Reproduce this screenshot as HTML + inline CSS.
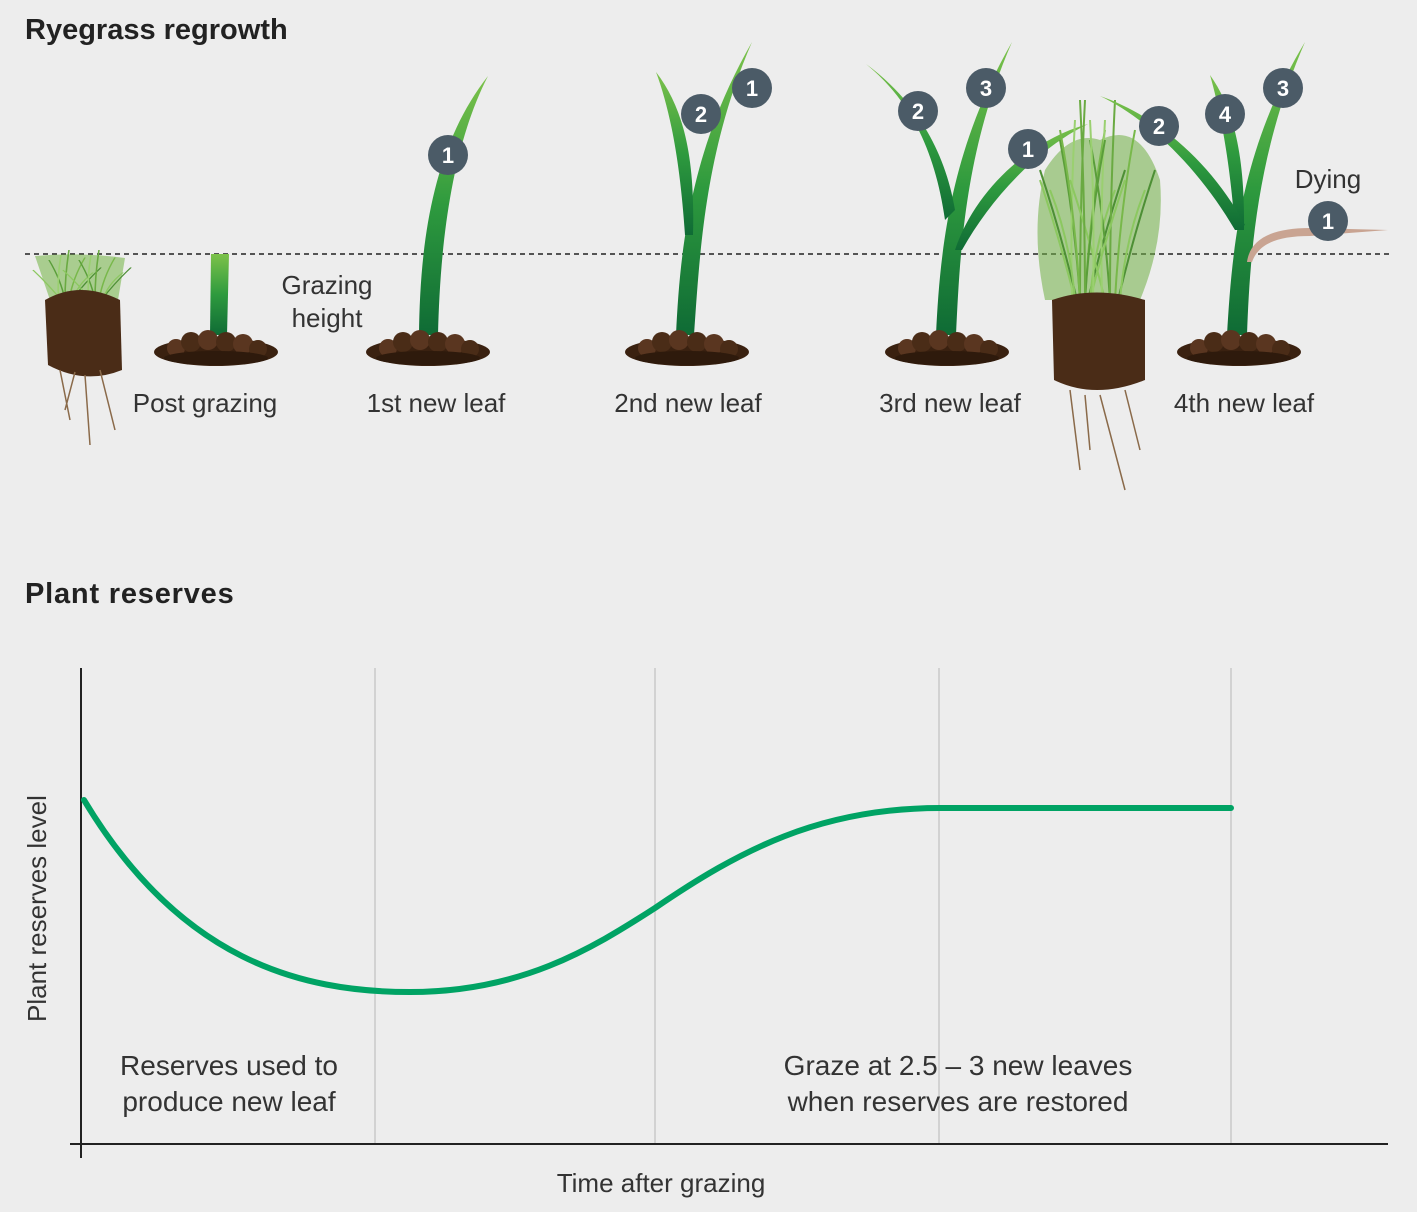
<!DOCTYPE html>
<html><head><meta charset="utf-8"><style>
html,body{margin:0;padding:0;background:#ededed;}
svg{display:block;font-family:"Liberation Sans",sans-serif;}
.t{fill:#333;font-size:26px;}
.h{fill:#222;font-size:29px;font-weight:bold;}
.n{fill:#fff;font-size:22px;font-weight:bold;text-anchor:middle;}
</style></head><body>
<svg width="1417" height="1212" viewBox="0 0 1417 1212" xmlns="http://www.w3.org/2000/svg">
<defs>
<linearGradient id="g" x1="0" y1="1" x2="0" y2="0">
<stop offset="0" stop-color="#0f6b35"/><stop offset="0.5" stop-color="#2e9a3e"/><stop offset="1" stop-color="#7cc24a"/>
</linearGradient>
<g id="soil">
<ellipse cx="0" cy="2" rx="62" ry="14" fill="#3a2110"/>
<circle cx="-40" cy="-2" r="9" fill="#5a3620"/>
<circle cx="-25" cy="-8" r="10" fill="#4a2c17"/>
<circle cx="-8" cy="-10" r="10" fill="#5a3620"/>
<circle cx="10" cy="-8" r="10" fill="#4a2c17"/>
<circle cx="27" cy="-6" r="10" fill="#5a3620"/>
<circle cx="42" cy="-1" r="9" fill="#4a2c17"/>
<ellipse cx="0" cy="8" rx="52" ry="7" fill="#2e1a0c"/>
</g>
<g id="grass" fill="none" stroke-width="2">
<path d="M0,0 Q-5,-80 -20,-160" stroke="#5a9e3a"/>
<path d="M5,0 Q10,-90 25,-170" stroke="#78b84a"/>
<path d="M-5,0 Q-20,-60 -40,-120" stroke="#8cc860"/>
<path d="M8,0 Q25,-70 45,-130" stroke="#4d8f35"/>
<path d="M0,0 Q0,-100 5,-200" stroke="#6aaa42"/>
<path d="M-8,0 Q-10,-90 -5,-180" stroke="#9ad070"/>
<path d="M10,0 Q15,-60 35,-110" stroke="#8cc860"/>
</g>
</defs>
<rect width="1417" height="1212" fill="#ededed"/>
<text x="25" y="39" class="h">Ryegrass regrowth</text>
<text x="25" y="603" class="h" letter-spacing="0.8">Plant reserves</text>

<line x1="25" y1="254" x2="1390" y2="254" stroke="#222" stroke-width="1.5" stroke-dasharray="5,4"/>

<!-- left clump -->
<g>
<path d="M35,256 Q80,252 125,258 L118,300 L50,300 Z" fill="#7cb850" opacity="0.6"/>
<g transform="translate(65,300) scale(0.8,0.25)"><use href="#grass"/></g>
<g transform="translate(95,300) scale(0.8,0.25)"><use href="#grass"/></g>
<path d="M45,300 Q80,280 120,300 L122,370 Q85,385 48,365 Z" fill="#4a2c17"/>
<path d="M60,370 L70,420 M85,375 L90,445 M100,370 L115,430 M75,372 L65,410" stroke="#8a6a4a" stroke-width="1.5" fill="none"/>
</g>
<!-- post grazing -->
<path d="M211,254 L229,254 L227,335 L210,335 Z" fill="url(#g)"/>
<use href="#soil" x="216" y="350"/>
<text x="327" y="294" class="t" text-anchor="middle">Grazing</text>
<text x="327" y="327" class="t" text-anchor="middle">height</text>
<text x="205" y="412" class="t" text-anchor="middle">Post grazing</text>

<!-- 1st -->
<path d="M419,335 C420,250 430,150 488,76 C450,150 440,250 438,335 Z" fill="url(#g)"/>
<use href="#soil" x="428" y="350"/>
<circle cx="448" cy="155" r="20" fill="#4b5b67"/><text x="448" y="163" class="n">1</text>
<text x="436" y="412" class="t" text-anchor="middle">1st new leaf</text>

<!-- 2nd -->
<path d="M676,335 C680,250 690,150 752,42 C705,150 700,250 694,335 Z" fill="url(#g)"/>
<path d="M685,235 C680,160 670,110 656,72 C685,110 695,160 693,235 Z" fill="url(#g)"/>
<use href="#soil" x="687" y="350"/>
<circle cx="701" cy="114" r="20" fill="#4b5b67"/><text x="701" y="122" class="n">2</text>
<circle cx="752" cy="88" r="20" fill="#4b5b67"/><text x="752" y="96" class="n">1</text>
<text x="688" y="412" class="t" text-anchor="middle">2nd new leaf</text>

<!-- 3rd -->
<path d="M936,335 C940,250 950,150 1012,42 C965,150 960,250 956,335 Z" fill="url(#g)"/>
<path d="M945,220 C935,150 910,100 866,64 C915,100 945,150 955,210 Z" fill="url(#g)"/>
<path d="M955,250 C975,190 1030,140 1088,124 C1035,150 990,200 962,250 Z" fill="url(#g)"/>
<use href="#soil" x="947" y="350"/>
<circle cx="918" cy="111" r="20" fill="#4b5b67"/><text x="918" y="119" class="n">2</text>
<circle cx="986" cy="88" r="20" fill="#4b5b67"/><text x="986" y="96" class="n">3</text>
<circle cx="1028" cy="149" r="20" fill="#4b5b67"/><text x="1028" y="157" class="n">1</text>
<text x="950" y="412" class="t" text-anchor="middle">3rd new leaf</text>

<!-- big clump -->
<path d="M1045,300 Q1030,230 1045,170 Q1070,130 1100,140 Q1140,120 1160,180 Q1165,240 1140,300 Z" fill="#6fae44" opacity="0.55"/>
<use href="#grass" x="1080" y="300"/>
<use href="#grass" x="1110" y="300"/>
<use href="#grass" x="1095" y="300" transform="translate(2180,0) scale(-1,1)"/>
<path d="M1052,300 Q1095,285 1145,300 L1145,380 Q1095,400 1054,380 Z" fill="#4a2c17"/>
<path d="M1070,390 L1080,470 M1100,395 L1125,490 M1125,390 L1140,450 M1085,395 L1090,450" stroke="#8a6a4a" stroke-width="1.5" fill="none"/>

<!-- 4th -->
<path d="M1227,335 C1232,250 1240,150 1305,42 C1258,150 1250,250 1247,335 Z" fill="url(#g)"/>
<path d="M1235,230 C1230,160 1220,110 1210,75 C1235,110 1245,160 1244,230 Z" fill="url(#g)"/>
<path d="M1235,230 C1200,170 1150,120 1100,96 C1155,115 1210,160 1245,225 Z" fill="url(#g)"/>
<path d="M1247,262 C1250,240 1270,228 1310,228 L1388,230 L1310,236 C1275,236 1258,245 1252,262 Z" fill="#c9a492"/>
<use href="#soil" x="1239" y="350"/>
<circle cx="1159" cy="126" r="20" fill="#4b5b67"/><text x="1159" y="134" class="n">2</text>
<circle cx="1225" cy="114" r="20" fill="#4b5b67"/><text x="1225" y="122" class="n">4</text>
<circle cx="1283" cy="88" r="20" fill="#4b5b67"/><text x="1283" y="96" class="n">3</text>
<circle cx="1328" cy="221" r="20" fill="#4b5b67"/><text x="1328" y="229" class="n">1</text>
<text x="1328" y="188" class="t" text-anchor="middle">Dying</text>
<text x="1244" y="412" class="t" text-anchor="middle">4th new leaf</text>

<!-- chart -->
<g stroke="#d2d2d2" stroke-width="2">
<line x1="375" y1="668" x2="375" y2="1143"/>
<line x1="655" y1="668" x2="655" y2="1143"/>
<line x1="939" y1="668" x2="939" y2="1143"/>
<line x1="1231" y1="668" x2="1231" y2="1143"/>
</g>
<line x1="81" y1="668" x2="81" y2="1158" stroke="#222" stroke-width="2"/>
<line x1="70" y1="1144" x2="1388" y2="1144" stroke="#222" stroke-width="2"/>
<path d="M84,800 C180,960 300,992 410,992 C520,992 590,950 655,908 C740,850 820,808 940,808 L1231,808" fill="none" stroke="#00a364" stroke-width="6" stroke-linecap="round"/>
<text class="t" transform="translate(46,1022) rotate(-90)">Plant reserves level</text>
<text x="229" y="1075" class="t" text-anchor="middle" style="font-size:28px">Reserves used to</text>
<text x="229" y="1111" class="t" text-anchor="middle" style="font-size:28px">produce new leaf</text>
<text x="958" y="1075" class="t" text-anchor="middle" style="font-size:28px">Graze at 2.5 – 3 new leaves</text>
<text x="958" y="1111" class="t" text-anchor="middle" style="font-size:28px">when reserves are restored</text>
<text x="661" y="1192" class="t" text-anchor="middle">Time after grazing</text>
</svg>
</body></html>
